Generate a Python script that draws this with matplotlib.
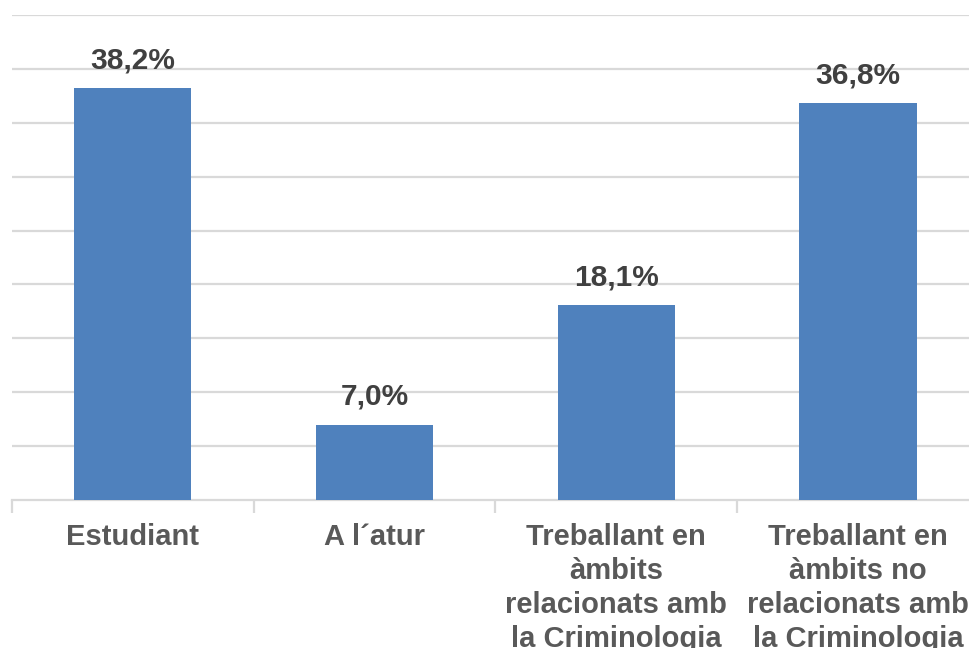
import matplotlib
matplotlib.use("Agg")
import matplotlib.pyplot as plt
import numpy as np

categories = ["Estudiant", "A l\u00b4atur",
              "Treballant en\nàmbits\nrelacionats amb\nla Criminologia",
              "Treballant en\nàmbits no\nrelacionats amb\nla Criminologia"]
values = [38.2, 7.0, 18.1, 36.8]
value_labels = ["38,2%", "7,0%", "18,1%", "36,8%"]

plt.rcParams['font.family'] = ['Liberation Sans', 'DejaVu Sans']

fig = plt.figure(figsize=(9.7, 6.48), dpi=100)
W, H = 970, 648
left_px, base_px, top_px = 12, 500, 15
cat_w = 241.7
ax = fig.add_axes([left_px / W, 1 - base_px / H, 4 * cat_w / W, (base_px - top_px) / H])

x = np.arange(len(categories))
ax.bar(x, values, width=0.485, color="#4F81BD", zorder=3)
ax.set_xlim(-0.5, len(categories) - 0.5)
ax.set_ylim(0, 45)

ax.set_yticks(np.arange(5, 46, 5))
ax.yaxis.grid(True, color="#D9D9D9", linewidth=1.6, zorder=0)
ax.tick_params(axis='y', left=False, labelleft=False)

for s in ["top", "right", "left"]:
    ax.spines[s].set_visible(False)
ax.spines["bottom"].set_color("#D9D9D9")
ax.spines["bottom"].set_linewidth(1.6)

ax.set_xticks(x)
ax.set_xticklabels(categories, fontsize=21, fontweight="bold", color="#595959",
                   linespacing=1.27, va="top")
ax.tick_params(axis='x', which='major', length=0, pad=16.5)
ax.set_xticks(np.arange(-0.5, len(categories), 1.0), minor=True)
ax.tick_params(axis='x', which='minor', length=9, width=1.6, color="#D9D9D9", direction="out")

for xi, v, lab in zip(x, values, value_labels):
    ax.annotate(lab, (xi, v), xytext=(0, 10), textcoords="offset points",
                ha="center", va="bottom", fontsize=21.5, fontweight="bold", color="#404040")

fig.savefig("out.png", dpi=100)
